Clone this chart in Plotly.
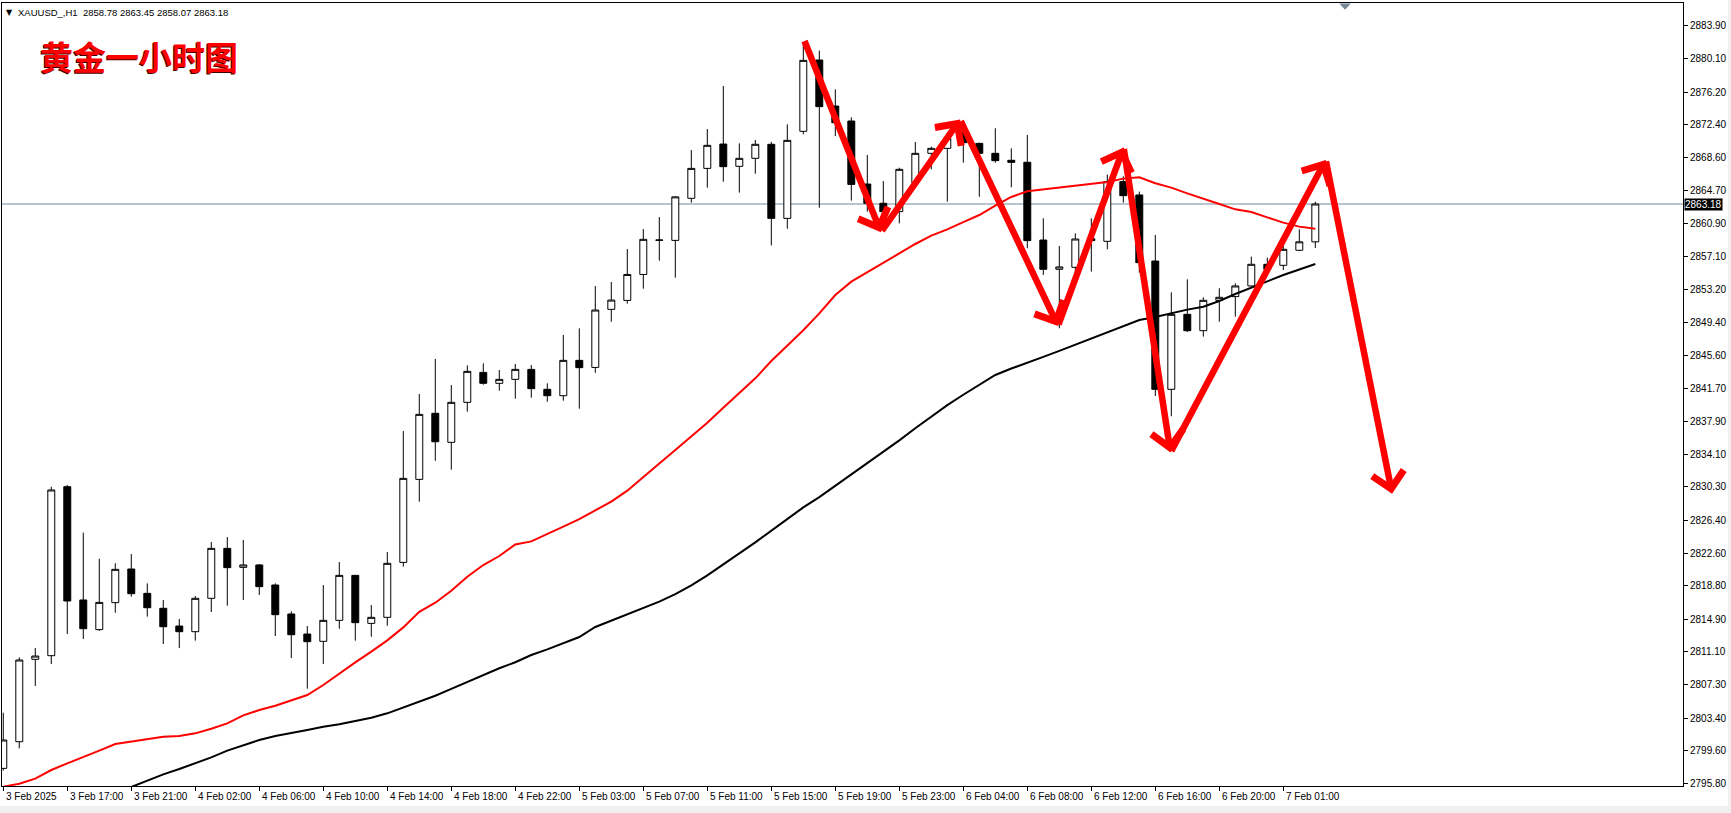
import plotly.graph_objects as go

# ---------------- data ----------------
opens = [2797.56, 2800.66, 2810.24, 2810.66, 2830.31, 2817.14, 2813.69, 2816.83, 2820.74, 2817.91,
         2816.17, 2814.11, 2813.45, 2817.33, 2823.14, 2820.93, 2821.21, 2818.88, 2815.51, 2813.18,
         2812.33, 2814.77, 2820.00, 2814.42, 2815.12, 2821.51, 2831.16, 2838.84, 2835.47, 2840.12,
         2843.60, 2842.33, 2842.79, 2843.95, 2841.63, 2840.89, 2845.00, 2844.18, 2850.93, 2851.97,
         2854.99, 2858.95, 2858.95, 2863.84, 2867.32, 2870.15, 2867.56, 2868.49, 2870.12, 2861.51,
         2871.63, 2879.92, 2874.57, 2872.83, 2865.50, 2863.26, 2862.29, 2865.66, 2869.07, 2869.65,
         2871.47, 2870.23, 2869.07, 2868.26, 2868.03, 2858.99, 2855.59, 2855.82, 2859.15, 2858.84,
         2865.78, 2864.23, 2856.55, 2841.63, 2850.35, 2848.45, 2851.98, 2852.41, 2853.65, 2856.17,
         2856.05, 2857.80, 2858.78]
highs = [2804.03, 2810.47, 2811.55, 2830.31, 2830.50, 2824.97, 2821.94, 2821.40, 2822.48, 2819.07,
         2817.14, 2814.93, 2817.60, 2823.88, 2824.46, 2824.11, 2821.32, 2819.07, 2815.82, 2814.11,
         2818.88, 2821.55, 2820.05, 2816.55, 2822.72, 2836.78, 2841.09, 2845.16, 2842.13, 2844.42,
         2844.65, 2843.88, 2844.57, 2844.46, 2842.33, 2847.95, 2848.72, 2853.64, 2854.11, 2857.94,
         2860.27, 2861.66, 2864.10, 2869.45, 2871.90, 2876.90, 2870.23, 2870.62, 2870.40, 2872.44,
         2881.90, 2881.01, 2876.51, 2873.26, 2868.88, 2865.85, 2867.40, 2870.39, 2869.85, 2871.50,
         2872.40, 2870.30, 2871.98, 2869.65, 2871.21, 2861.52, 2858.30, 2859.77, 2861.52, 2866.60,
         2866.40, 2864.62, 2859.58, 2852.91, 2854.42, 2852.33, 2853.38, 2853.96, 2857.06, 2856.94,
         2858.30, 2860.24, 2863.45]
lows = [2797.30, 2799.89, 2807.14, 2809.69, 2813.18, 2812.60, 2813.53, 2815.66, 2817.52, 2815.20,
        2812.02, 2811.55, 2812.41, 2815.74, 2816.48, 2817.14, 2817.72, 2812.95, 2810.39, 2806.83,
        2809.69, 2813.80, 2812.41, 2812.87, 2814.15, 2821.01, 2828.57, 2833.33, 2832.29, 2839.03,
        2842.17, 2841.47, 2840.54, 2840.66, 2840.19, 2840.31, 2839.38, 2843.56, 2849.49, 2851.59,
        2853.33, 2856.59, 2854.61, 2863.33, 2865.08, 2865.77, 2864.50, 2866.70, 2858.37, 2860.31,
        2871.28, 2862.75, 2871.08, 2863.57, 2862.29, 2861.30, 2860.93, 2865.20, 2867.21, 2863.45,
        2867.98, 2864.03, 2867.98, 2865.12, 2858.03, 2854.93, 2848.73, 2854.50, 2855.32, 2857.91,
        2863.34, 2855.20, 2840.86, 2838.50, 2848.30, 2847.76, 2849.50, 2850.08, 2853.57, 2855.40,
        2855.51, 2857.70, 2858.07]
closes = [2800.86, 2810.16, 2810.62, 2829.93, 2817.02, 2813.80, 2816.86, 2820.70, 2817.87, 2816.24,
          2814.03, 2813.45, 2817.33, 2823.14, 2820.90, 2821.21, 2818.69, 2815.43, 2813.10, 2812.29,
          2814.77, 2820.00, 2814.50, 2815.12, 2821.40, 2831.28, 2838.72, 2835.54, 2840.12, 2843.72,
          2842.33, 2842.79, 2843.95, 2841.71, 2840.89, 2845.00, 2844.15, 2850.85, 2852.01, 2854.99,
          2859.07, 2858.99, 2864.01, 2867.32, 2870.00, 2867.52, 2868.49, 2870.12, 2861.51, 2870.58,
          2879.88, 2874.50, 2872.63, 2865.46, 2863.26, 2862.29, 2867.21, 2869.07, 2869.65, 2870.80,
          2870.31, 2869.07, 2868.22, 2868.02, 2858.92, 2855.59, 2855.86, 2859.11, 2858.92, 2865.78,
          2864.15, 2856.36, 2841.63, 2850.35, 2848.45, 2851.98, 2852.33, 2853.65, 2856.17, 2855.59,
          2857.91, 2858.78, 2863.18]

ma_red = [2795.43, 2795.78, 2796.36, 2797.37, 2798.14, 2798.84, 2799.62, 2800.39, 2800.66, 2800.97,
          2801.24, 2801.32, 2801.63, 2802.17, 2802.79, 2803.72, 2804.34, 2804.85, 2805.43, 2806.09,
          2807.25, 2808.61, 2809.89, 2811.13, 2812.44, 2813.95, 2815.76, 2816.82, 2818.22, 2819.85,
          2821.20, 2822.25, 2823.60, 2823.95, 2824.77, 2825.66, 2826.55, 2827.52, 2828.57, 2829.85,
          2831.47, 2833.02, 2834.57, 2836.12, 2837.75, 2839.50, 2841.16, 2842.91, 2844.92, 2846.67,
          2848.50, 2850.46, 2852.60, 2854.15, 2855.23, 2856.28, 2857.44, 2858.53, 2859.50, 2860.23,
          2861.08, 2861.90, 2863.00, 2864.00, 2864.66, 2864.89, 2865.08, 2865.28, 2865.51, 2865.74,
          2866.13, 2866.28, 2865.59, 2865.08, 2864.42, 2863.76, 2863.18, 2862.56, 2862.25, 2861.63,
          2861.01, 2860.55, 2860.31]

ma_black = [None, None, None, None, None, None, None, None, 2795.40,
            2796.13, 2796.86, 2797.48, 2798.14, 2798.84, 2799.62, 2800.24, 2800.86, 2801.32, 2801.63,
            2802.02, 2802.41, 2802.68, 2803.07, 2803.45, 2803.96, 2804.62, 2805.31, 2806.00, 2806.80,
            2807.60, 2808.40, 2809.20, 2809.90, 2810.74, 2811.40, 2812.09, 2812.83, 2814.00, 2814.73,
            2815.39, 2816.20, 2816.94, 2817.83, 2818.84, 2820.00, 2821.24, 2822.56, 2823.84, 2825.23,
            2826.59, 2827.91, 2829.10, 2830.40, 2831.70, 2833.00, 2834.30, 2835.70, 2837.10, 2838.50,
            2839.80, 2841.00, 2842.20, 2843.30, 2844.05, 2844.70, 2845.40, 2846.10, 2846.80, 2847.50,
            2848.20, 2848.95, 2849.69, 2850.04, 2850.47, 2850.90, 2851.24, 2851.90, 2852.72, 2853.42,
            2854.19, 2854.93, 2855.59, 2856.21]

bar_pos = list(range(len(opens)))

x_tick_pos = [0, 4, 8, 12, 16, 20, 24, 28, 32, 36, 40, 44, 48, 52, 56, 60, 64, 68, 72, 76, 80]
x_tick_text = ["3 Feb 2025", "3 Feb 17:00", "3 Feb 21:00", "4 Feb 02:00", "4 Feb 06:00",
               "4 Feb 10:00", "4 Feb 14:00", "4 Feb 18:00", "4 Feb 22:00", "5 Feb 03:00",
               "5 Feb 07:00", "5 Feb 11:00", "5 Feb 15:00", "5 Feb 19:00", "5 Feb 23:00",
               "6 Feb 04:00", "6 Feb 08:00", "6 Feb 12:00", "6 Feb 16:00", "6 Feb 20:00",
               "7 Feb 01:00"]

y_tick_vals = [2883.90, 2880.10, 2876.20, 2872.40, 2868.60, 2864.70, 2860.90, 2857.10, 2853.20,
               2849.40, 2845.60, 2841.70, 2837.90, 2834.10, 2830.30, 2826.40, 2822.60, 2818.80,
               2814.90, 2811.10, 2807.30, 2803.40, 2799.60, 2795.80]

last_price = 2863.18
header = "XAUUSD_,H1\u00a0\u00a02858.78 2863.45 2858.07 2863.18"
title_text = "黄金一小时图"

# zig-zag forecast arrows: turning points (bar position, price)
arrow_x = [50.04, 54.85, 59.8, 65.92, 70.02, 72.95, 82.65, 86.8]
arrow_y = [2882.3, 2859.9, 2873.0, 2849.0, 2869.75, 2834.3, 2868.3, 2829.5]

# chart-shift marker position (bar units)
shift_marker_pos = 83.86

# ---------------- figure ----------------
fig = go.Figure()

fig.add_trace(go.Candlestick(
    x=bar_pos, open=opens, high=highs, low=lows, close=closes,
    increasing=dict(fillcolor="white", line=dict(color="black", width=1)),
    decreasing=dict(fillcolor="black", line=dict(color="black", width=1)),
    whiskerwidth=0, showlegend=False, hoverinfo="skip",
))

fig.add_trace(go.Scatter(x=bar_pos, y=ma_red, mode="lines",
                         line=dict(color="#ff0000", width=2), showlegend=False,
                         hoverinfo="skip"))
fig.add_trace(go.Scatter(x=bar_pos, y=ma_black, mode="lines",
                         line=dict(color="#000000", width=2), showlegend=False,
                         hoverinfo="skip", connectgaps=False))

annotations = []
# arrows
for k in range(1, len(arrow_x)):
    annotations.append(dict(
        x=arrow_x[k], y=arrow_y[k], ax=arrow_x[k - 1], ay=arrow_y[k - 1],
        xref="x", yref="y", axref="x", ayref="y", text="", showarrow=True,
        arrowhead=4, arrowsize=0.95, arrowwidth=6.5, arrowcolor="#ff0000", standoff=0,
    ))

# x-axis labels (left aligned at tick, like MT4)
for p, t in zip(x_tick_pos, x_tick_text):
    annotations.append(dict(
        x=p, y=0, xref="x", yref="paper", text=t, showarrow=False,
        xanchor="left", yanchor="top", xshift=1, yshift=-3,
        font=dict(family="Liberation Sans, Arial, sans-serif", size=10, color="black"),
    ))

# header
annotations.append(dict(
    x=0, y=1, xref="paper", yref="paper", text="▼", showarrow=False,
    xanchor="left", yanchor="top", xshift=2, yshift=-3,
    font=dict(family="DejaVu Sans", size=8, color="black"),
))
annotations.append(dict(
    x=0, y=1, xref="paper", yref="paper", text=header, showarrow=False,
    xanchor="left", yanchor="top", xshift=14, yshift=-2,
    font=dict(family="Liberation Sans, Arial, sans-serif", size=9.5, color="black"),
))
# title (with slight dark shadow like the reference)
annotations.append(dict(
    x=0, y=1, xref="paper", yref="paper", text="<b>" + title_text + "</b>", showarrow=False,
    xanchor="left", yanchor="top", xshift=35, yshift=-28,
    font=dict(family="Noto Sans CJK SC", size=33, color="#400000"),
))
annotations.append(dict(
    x=0, y=1, xref="paper", yref="paper", text="<b>" + title_text + "</b>", showarrow=False,
    xanchor="left", yanchor="top", xshift=36, yshift=-27,
    font=dict(family="Noto Sans CJK SC", size=33, color="#ff0000"),
))
# last price label
annotations.append(dict(
    x=1, y=last_price, xref="paper", yref="y", text=f"{last_price:.2f}", showarrow=False,
    xanchor="left", yanchor="middle", xshift=1, bgcolor="black", borderpad=0,
    font=dict(family="Liberation Sans, Arial, sans-serif", size=10, color="white"),
))

m = shift_marker_pos
shapes = [
    dict(type="line", xref="paper", yref="y", x0=0, x1=1, y0=last_price, y1=last_price,
         line=dict(color="#778899", width=1), layer="below"),
    dict(type="rect", xref="paper", yref="paper", x0=-0.01, x1=1.05, y0=-0.0256, y1=-0.06,
         fillcolor="#f0f0f0", line=dict(width=0)),
    dict(type="rect", xref="paper", yref="paper", x0=1.0268, x1=1.05, y0=-0.06, y1=1.01,
         fillcolor="#f0f0f0", line=dict(width=0)),
    # chart-shift marker (small grey down triangle at the top edge)
    dict(type="path", xref="x", yref="paper",
         path=f"M {m - 0.36},0.9995 L {m + 0.36},0.9995 L {m},0.9915 Z",
         fillcolor="#778899", line=dict(width=0)),
]

fig.update_layout(
    width=1731, height=813,
    margin=dict(l=2, r=48, t=3, b=27),
    paper_bgcolor="white", plot_bgcolor="white",
    boxgap=0.38,
    annotations=annotations, shapes=shapes,
    showlegend=False,
    font=dict(family="Liberation Sans, Arial, sans-serif", size=10, color="black"),
)
fig.update_xaxes(
    range=[-0.08, 104.98], tickvals=x_tick_pos, ticktext=[""] * len(x_tick_pos),
    ticks="outside", ticklen=4, tickcolor="black", showgrid=False, zeroline=False,
    showline=True, linecolor="black", linewidth=1, mirror=True,
    rangeslider=dict(visible=False), fixedrange=True,
)
fig.update_yaxes(
    range=[2795.51, 2886.55], side="right", tickvals=y_tick_vals,
    ticktext=[f"{v:.2f}" for v in y_tick_vals],
    ticks="outside", ticklen=4, tickcolor="black", showgrid=False, zeroline=False,
    showline=True, linecolor="black", linewidth=1, mirror=True,
    tickfont=dict(family="Liberation Sans, Arial, sans-serif", size=10, color="black"),
    fixedrange=True,
)

fig.write_html("out.html", config={"displayModeBar": False},
               post_script="document.body.style.margin='0';document.body.style.overflow='hidden';")
